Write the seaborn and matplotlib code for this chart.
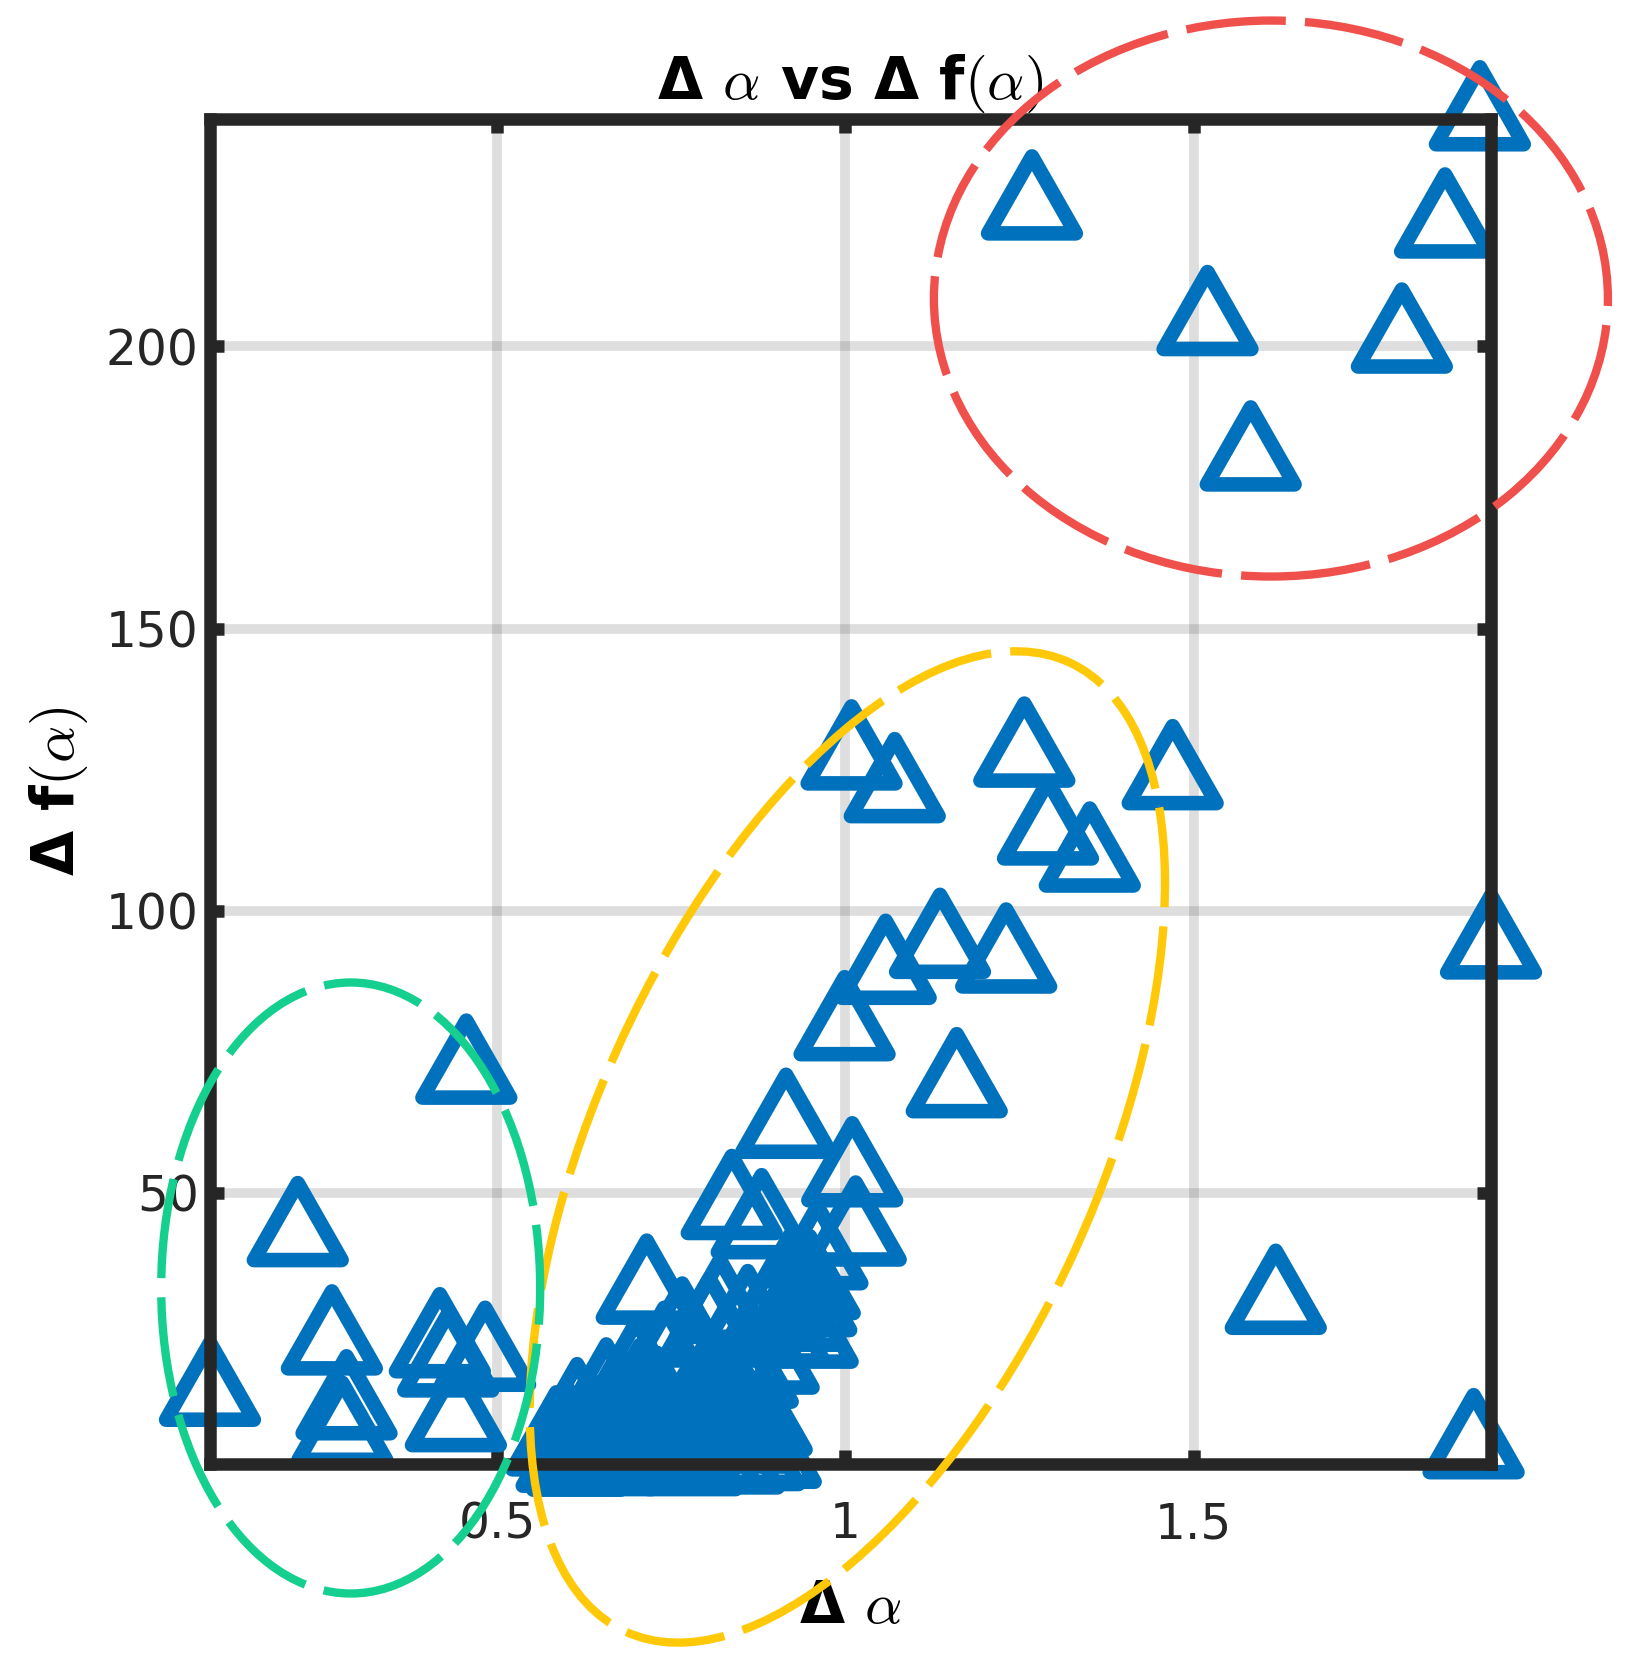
import numpy as np
import pandas as pd
import matplotlib
matplotlib.use("Agg")
import matplotlib.pyplot as plt
import seaborn as sns
from matplotlib.path import Path
from matplotlib.markers import MarkerStyle
from matplotlib.patches import Ellipse
from matplotlib.transforms import ScaledTranslation

# ---------------- data ----------------
# upper-right group (red ellipse)
red_x = [1.268, 1.911, 1.861, 1.520, 1.799, 1.582]
red_y = [224.6, 240.4, 221.4, 204.1, 201.0, 180.1]

# rising group (yellow ellipse), upper part
yel_x = [1.009, 1.071, 1.257, 1.291, 1.351, 1.470, 1.136, 1.058, 1.231, 0.999,
         1.160, 0.915, 1.010, 0.837, 1.015]
yel_y = [127.1, 121.3, 127.6, 113.8, 109.0, 123.6, 93.7, 89.1, 91.1, 79.1,
         69.0, 61.8, 53.2, 47.4, 42.7]

# dense cluster at the bottom
dense_x = [0.600, 0.615, 0.640, 0.660, 0.690, 0.720, 0.750, 0.780, 0.810, 0.840, 0.870, 0.893,
           0.585, 0.600, 0.625, 0.650, 0.680, 0.710, 0.740, 0.770, 0.800, 0.830, 0.860,
           0.615, 0.657, 0.690, 0.705, 0.730, 0.760, 0.790, 0.820, 0.850, 0.880,
           0.700, 0.740, 0.766, 0.805, 0.780, 0.830, 0.860, 0.890, 0.906,
           0.715, 0.820, 0.860, 0.900, 0.920, 0.932, 0.944, 0.949, 0.946, 0.960, 0.880]
dense_y = [2.6, 1.9, 2.4, 2.0, 2.8, 2.2, 2.5, 2.0, 2.6, 2.3, 2.9, 3.3,
           5.5, 6.6, 5.0, 7.5, 6.0, 8.5, 6.5, 9.0, 7.0, 8.0, 6.0,
           10.5, 14.0, 11.5, 13.9, 12.5, 15.5, 12.0, 14.0, 11.0, 9.0,
           18.0, 20.5, 24.8, 25.7, 19.0, 21.0, 17.5, 20.0, 24.8,
           32.4, 29.0, 27.0, 29.5, 33.3, 27.6, 30.2, 33.2, 24.6, 38.5, 44.0]

# low-alpha group (green ellipse)
grn_x = [0.214, 0.263, 0.088, 0.418, 0.483, 0.430, 0.284, 0.278, 0.441, 0.456]
grn_y = [42.6, 23.4, 14.3, 22.9, 20.5, 19.5, 11.9, 7.2, 9.8, 71.4]

# isolated points at the right
out_x = [1.927, 1.902, 1.618]
out_y = [93.6, 5.0, 30.6]

x_ticks = [0.5, 1, 1.5]
y_ticks = [50, 100, 150, 200]
x_tick_labels = ["0.5", "1", "1.5"]
y_tick_labels = ["50", "100", "150", "200"]

title_text = "Δ $\\alpha$ vs Δ f$(\\alpha)$"
xlabel_text = "Δ $\\alpha$"
ylabel_text = "Δ f$(\\alpha)$"

# highlight ellipses: centre in data units, size in inches, angle in degrees
ell_names = ["red", "yellow", "green"]
ell_cx = [1.611, 1.003, 0.290]
ell_cy = [208.5, 58.1, 33.1]
ell_w = [6.74, 10.66, 3.79]
ell_h = [5.56, 5.00, 6.11]
ell_ang = [0.0, 65.4, 0.0]
ell_col = ["#F0504C", "#FFC90A", "#14CF8E"]

# ---------------- styling ----------------
sns.set_theme(style="white")
plt.rcParams["font.family"] = ["DejaVu Sans"]
plt.rcParams["mathtext.fontset"] = "cm"

BLUE = "#0072BD"
AXC = "#262626"

df = pd.DataFrame({
    "x": red_x + yel_x + dense_x + grn_x + out_x,
    "y": red_y + yel_y + dense_y + grn_y + out_y,
})

fig = plt.figure(figsize=(16.29, 16.61), dpi=100)
ax = fig.add_axes([0.1289, 0.1186, 0.7864, 0.8100])

# triangle marker with its centroid on the data point (MATLAB style)
r = 1.71
tri = Path([(-r, -1.0), (r, -1.0), (0.0, 2.0), (-r, -1.0)],
           [Path.MOVETO, Path.LINETO, Path.LINETO, Path.CLOSEPOLY])
ms = MarkerStyle(tri, joinstyle="miter")

sns.scatterplot(data=df, x="x", y="y", ax=ax, marker=ms, s=73.9 ** 2,
                color=BLUE, facecolor="none", edgecolor=BLUE,
                linewidth=10.5, clip_on=False, zorder=2, legend=False)

ax.set_xlim(df["x"].min(), df["x"].max())
ax.set_ylim(df["y"].min(), df["y"].max())

ax.set_xticks(x_ticks)
ax.set_xticklabels(x_tick_labels)
ax.set_yticks(y_ticks)
ax.set_yticklabels(y_tick_labels)

ax.set_axisbelow(True)
ax.grid(True, color=AXC, alpha=0.15, linewidth=7)
for sp in ax.spines.values():
    sp.set_visible(True)
    sp.set_color(AXC)
    sp.set_linewidth(9)
    sp.set_zorder(3)

ax.tick_params(axis="both", which="major", direction="in", length=10, width=9,
               color=AXC, labelcolor=AXC, labelsize=35,
               top=True, right=True, bottom=True, left=True)
ax.tick_params(axis="x", pad=26)
ax.tick_params(axis="y", pad=8)

ax.set_title(title_text, fontsize=42, fontweight="bold", color="black", pad=14)
ax.set_xlabel(xlabel_text, fontsize=42, fontweight="bold", color="black")
ax.set_ylabel(ylabel_text, fontsize=42, fontweight="bold", color="black")
ax.xaxis.set_label_coords(0.5, -0.085)
ax.yaxis.set_label_coords(-0.094, 0.5)

for cx, cy, w, h, a, c in zip(ell_cx, ell_cy, ell_w, ell_h, ell_ang, ell_col):
    tr = fig.dpi_scale_trans + ScaledTranslation(cx, cy, ax.transData)
    e = Ellipse((0, 0), w, h, angle=a, transform=tr, fill=False,
                edgecolor=c, linewidth=6, linestyle=(0, (12, 2.3)),
                clip_on=False, zorder=5)
    ax.add_artist(e)

fig.savefig("out.png", dpi=100, facecolor="white")
